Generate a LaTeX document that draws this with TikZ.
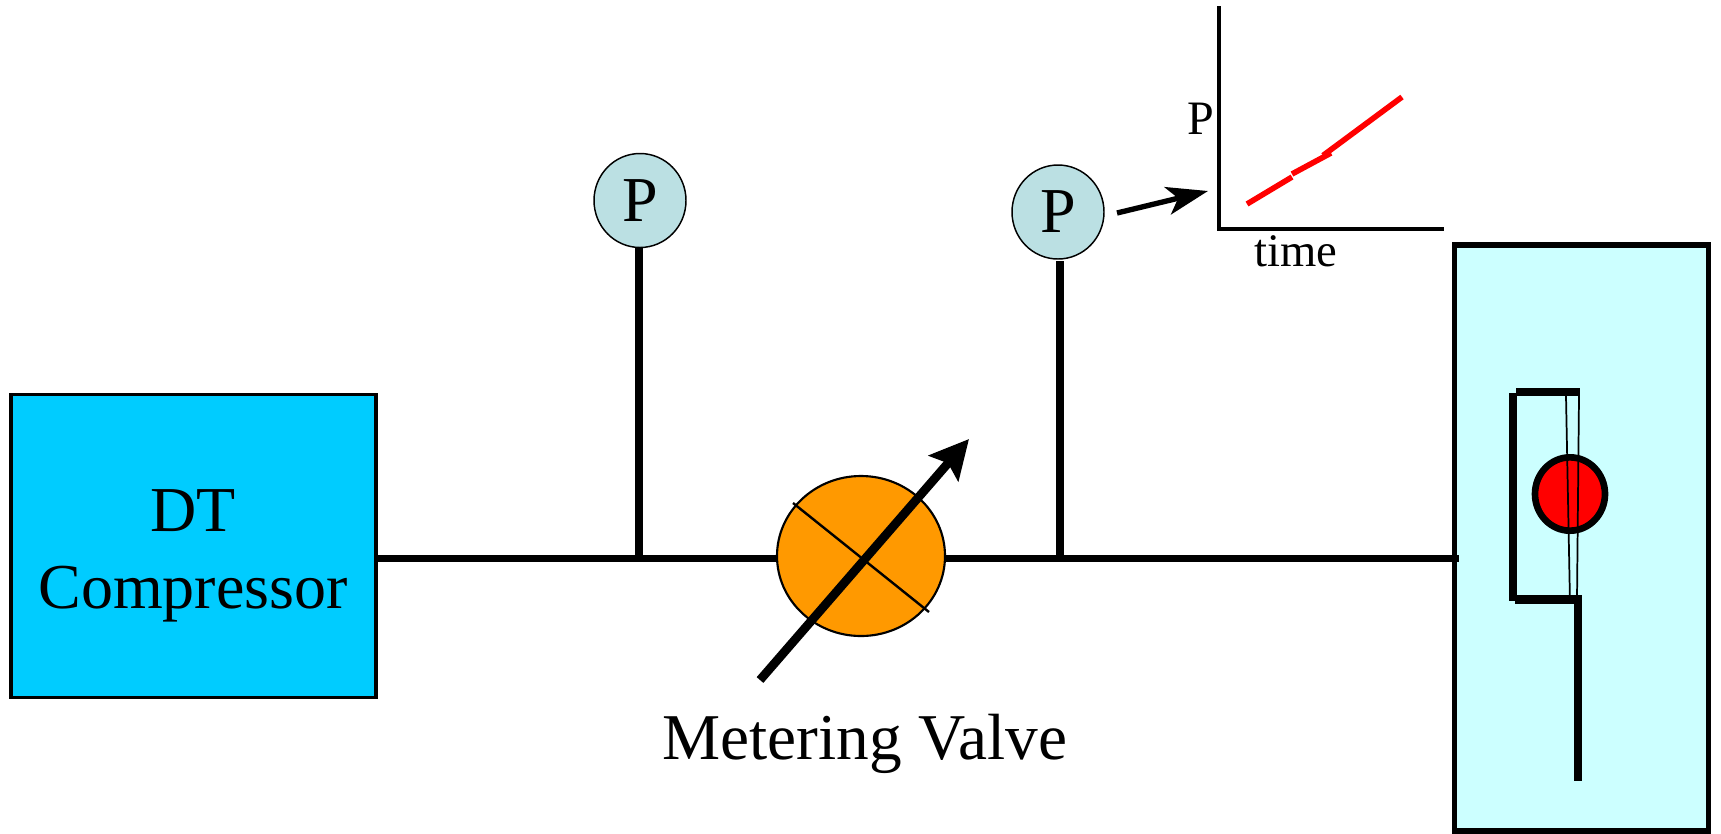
\documentclass[tikz,border=0pt]{standalone}
\usepackage{fontspec}
\setmainfont{Liberation Serif}
\usetikzlibrary{arrows.meta,shapes.geometric}
\definecolor{compblue}{HTML}{00CCFF}
\definecolor{chamber}{HTML}{CCFFFF}
\definecolor{gaugefill}{HTML}{BBE0E3}
\definecolor{valvefill}{HTML}{FF9900}
\newcommand{\pxfont}[2]{\fontsize{#1}{#2}\selectfont}
\tikzset{
  x=0.75pt, y=-0.75pt,
  pipe/.style={draw=black, line width=5.9pt},
  gauge/.style={ellipse, draw=black, fill=gaugefill, line width=1.1pt, inner sep=0pt, outer sep=0pt, minimum width=69pt, minimum height=70.5pt, text=black, font=\pxfont{48}{54}},
  blockbox/.style={rectangle, draw=black, outer sep=0pt, inner sep=0pt},
  biglabel/.style={align=center, inner sep=0pt, font=\pxfont{48}{58}},
  smalllabel/.style={inner sep=0pt, font=\pxfont{35}{40}},
  thinwire/.style={draw=black, line width=1.3pt},
  redtrace/.style={draw=red, line width=4.2pt},
  axisline/.style={draw=black, line width=2.8pt},
  holder/.style={draw=black, line width=6.5pt},
}
\begin{document}
\begin{tikzpicture}
\useasboundingbox (0,0) rectangle (1721,833);
% chamber
\node[blockbox, fill=chamber, line width=3.8pt, minimum width=191pt, minimum height=439.5pt] (chamberbox) at (1581.5,538) {};
% compressor
\node[blockbox, fill=compblue, line width=2.6pt, minimum width=273.75pt, minimum height=227.5pt] (comp) at (193.5,546) {};
\node[biglabel] (complabel) at (193,556) {DT\\Compressor};
% named points
\coordinate (j1) at (639,558.5);
\coordinate (j2) at (1060,558.5);
\coordinate (g1foot) at (639,248);
\coordinate (g2foot) at (1060,261);
\coordinate (lineend) at (1459,558.5);
% valve
\node[ellipse, draw=black, fill=valvefill, line width=1.6pt, inner sep=0pt, outer sep=0pt, minimum width=126pt, minimum height=120pt] (valve) at (861,556) {};
% pipes
\draw[pipe] (comp.east |- j1) -- (j1) -- (j1 -| valve.west);
\draw[pipe] (j1 -| valve.east) -- (j2) -- (lineend);
\draw[pipe] (g1foot) -- (j1);
\draw[pipe] (g2foot) -- (j2);
% gauges
\node[gauge] (g1) at (640,200.5) {\raisebox{-1.9pt}{P}};
\node[gauge] (g2) at (1058,212) {\raisebox{-0.75pt}{P}};
% valve marks
\coordinate (crossa) at (793,503);
\coordinate (crossb) at (929,612);
\coordinate (adjfrom) at (760,680);
\coordinate (adjto) at (969,439);
\draw[draw=black, line width=1.8pt] (crossa) -- (crossb);
\draw[draw=black, line width=6.6pt, -{Stealth[length=29pt,width=29pt,inset=5pt]}] (adjfrom) -- (adjto);
\node[biglabel, font=\pxfont{49}{58}] (vlabel) at (865,744) {Metering Valve};
% graph
\coordinate (origin) at (1219,229);
\coordinate (ytop) at (1219,6);
\coordinate (xend) at (1444,229);
\draw[axisline] (ytop) -- (origin) -- (xend);
\node[smalllabel, font=\pxfont{36}{40}] (plabel) at (1201,119) {P};
\node[smalllabel] (tlabel) at (1296,251) {time};
\coordinate (r1) at (1247,204);
\coordinate (r2) at (1292,177);
\coordinate (r3) at (1292,174);
\coordinate (r4) at (1331,153);
\coordinate (r5) at (1323,155.5);
\coordinate (r6) at (1402,97);
\draw[redtrace] (r1) -- (r2);
\draw[redtrace] (r3) -- (r4);
\draw[redtrace] (r5) -- (r6);
\coordinate (sfrom) at (1117,213);
\coordinate (sto) at (1208,191);
\draw[draw=black, line width=4pt, -{Stealth[length=31pt,width=21pt,inset=8pt]}] (sfrom) -- (sto);
% holder
\coordinate (hl1) at (1513,393);
\coordinate (hl2) at (1513,601);
\coordinate (ht1) at (1516,392);
\coordinate (ht2) at (1580,392);
\coordinate (hb1) at (1515,599.5);
\coordinate (hb2) at (1582,599.5);
\coordinate (hd1) at (1578,599);
\coordinate (hd2) at (1578,781);
\draw[holder] (hl1) -- (hl2);
\draw[holder] (ht1) -- (ht2);
\draw[holder] (hb1) -- (hb2);
\draw[holder] (hd1) -- (hd2);
\node[ellipse, draw=black, fill=red, line width=5pt, inner sep=0pt, outer sep=0pt, minimum width=52.5pt, minimum height=55pt] (ball) at (1570,494) {};
\coordinate (w1a) at (1566,396);
\coordinate (w1b) at (1570,603);
\coordinate (w2a) at (1579,396);
\coordinate (w2b) at (1577,599);
\draw[thinwire] (w1a) -- (w1b);
\draw[thinwire] (w2a) -- (w2b);
\end{tikzpicture}
\end{document}
